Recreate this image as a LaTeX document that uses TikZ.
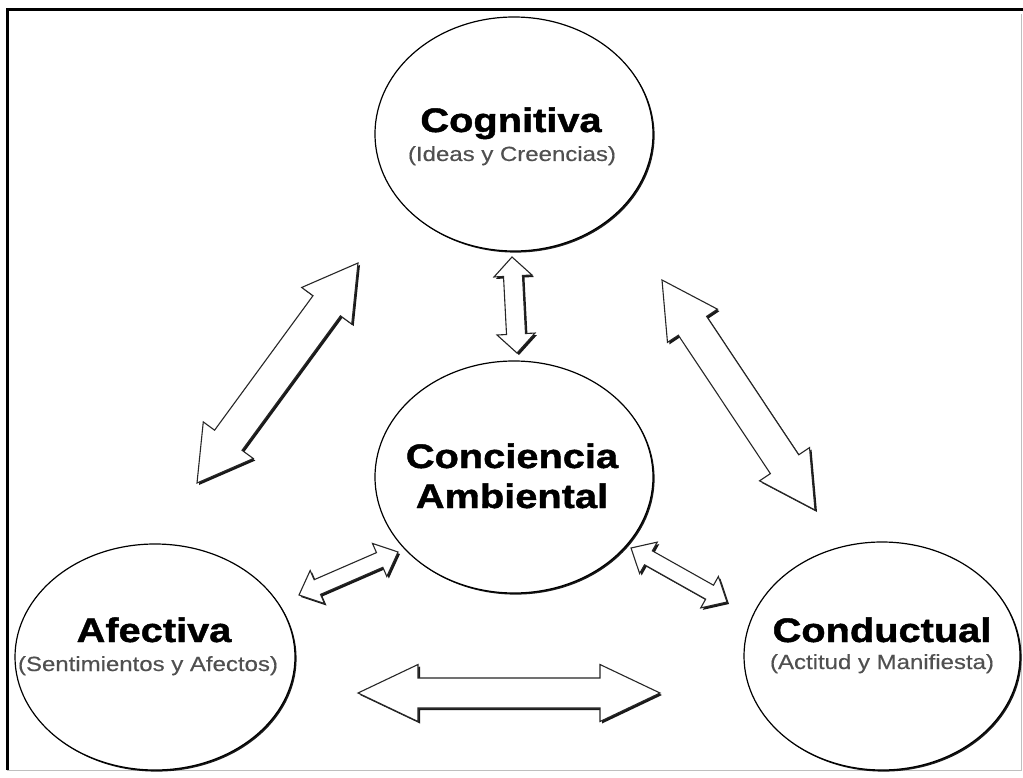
\documentclass[tikz,border=0pt]{standalone}
\usepackage{fontspec}
\setmainfont{Liberation Sans}
\newfontfamily\headfont[FakeStretch=1.17,FakeBold=1.3]{Liberation Sans}
\newfontfamily\subfont[FakeStretch=1.17,FakeBold=0.4]{Liberation Sans}
\usetikzlibrary{calc,shapes.geometric,shadows}
\definecolor{subgray}{HTML}{505050}
\tikzset{
  bubble/.style={ellipse, draw=black, line width=1.2pt, fill=white, inner sep=0pt,
    drop shadow={shadow xshift=1.6pt, shadow yshift=-1.6pt, fill=black, opacity=0.9}},
  blockarrow/.style={draw=black!85, line width=1.1pt, fill=white, line join=miter,
    drop shadow={shadow xshift=2pt, shadow yshift=-2pt, fill=black, opacity=0.9}},
  headtext/.style={anchor=base, inner sep=0pt, font=\headfont\bfseries\fontsize{34}{36}\selectfont},
  subtext/.style={anchor=base, inner sep=0pt, text=subgray, font=\subfont\fontsize{20.5}{22}\selectfont},
  frameline/.style={line width=3pt, black},
  faintline/.style={line width=1pt, black!25}
}
\newcommand{\dblarrow}[5]{%
  \path ($(#1)!#5!(#2)$) coordinate (hA) ($(#2)!#5!(#1)$) coordinate (hB);
  \filldraw[blockarrow] (#1) -- ($(hA)!#4!90:(#2)$) -- ($(hA)!#3!90:(#2)$)
    -- ($(hB)!#3!-90:(#1)$) -- ($(hB)!#4!-90:(#1)$) -- (#2)
    -- ($(hB)!#4!90:(#1)$) -- ($(hB)!#3!90:(#1)$)
    -- ($(hA)!#3!-90:(#2)$) -- ($(hA)!#4!-90:(#2)$) -- cycle;
}
\begin{document}
\begin{tikzpicture}[x=1pt,y=-1pt]
\useasboundingbox[fill=white] (0,0) rectangle (1023,778);
% frame
\coordinate (fTL) at (7,10);
\coordinate (fTR) at (1023,10);
\coordinate (fBL) at (7,770);
\coordinate (fBR) at (1021,770);
\coordinate (fRT) at (1021,14);
\draw[faintline] (fBL) -- (fBR) -- (fRT);
\draw[frameline] (fBL) -- (fTL) -- (fTR);
% ellipses
\node[bubble, minimum width=278pt, minimum height=234pt] (cog) at (514,134) {};
\node[bubble, minimum width=278pt, minimum height=232pt] (amb) at (514,477) {};
\node[bubble, minimum width=280pt, minimum height=226pt] (afe) at (155,657) {};
\node[bubble, minimum width=276pt, minimum height=228pt] (con) at (882,656) {};
% texts
\node[headtext] (cogT) at (511,132) {Cognitiva};
\node[subtext] (cogS) at (512,161) {(Ideas y Creencias)};
\node[headtext] (ambT1) at (512,468) {Conciencia};
\node[headtext] (ambT2) at (512,508) {Ambiental};
\node[headtext] (afeT) at (154,642) {Afectiva};
\node[subtext] (afeS) at (148,671) {(Sentimientos y Afectos)};
\node[headtext] (conT) at (882,642) {Conductual};
\node[subtext] (conS) at (882,669) {(Actitud y Manifiesta)};
% arrow end points
\coordinate (a1s) at (358,263); \coordinate (a1e) at (197,483);
\coordinate (a2s) at (662,280); \coordinate (a2e) at (815,510);
\coordinate (a3s) at (512,257); \coordinate (a3e) at (517,353);
\coordinate (a4s) at (299,595); \coordinate (a4e) at (398,552);
\coordinate (a5s) at (631,548); \coordinate (a5e) at (727,602);
\coordinate (a6s) at (358,693); \coordinate (a6e) at (660,693);
% block arrows
\dblarrow{a1s}{a1e}{17pt}{31pt}{53pt}
\dblarrow{a2s}{a2e}{17pt}{30pt}{55pt}
\dblarrow{a3s}{a3e}{9.5pt}{19pt}{19pt}
\dblarrow{a4s}{a4e}{8pt}{18pt}{20pt}
\dblarrow{a5s}{a5e}{8pt}{18pt}{20pt}
\dblarrow{a6s}{a6e}{15pt}{28.5pt}{60pt}
\end{tikzpicture}
\end{document}
